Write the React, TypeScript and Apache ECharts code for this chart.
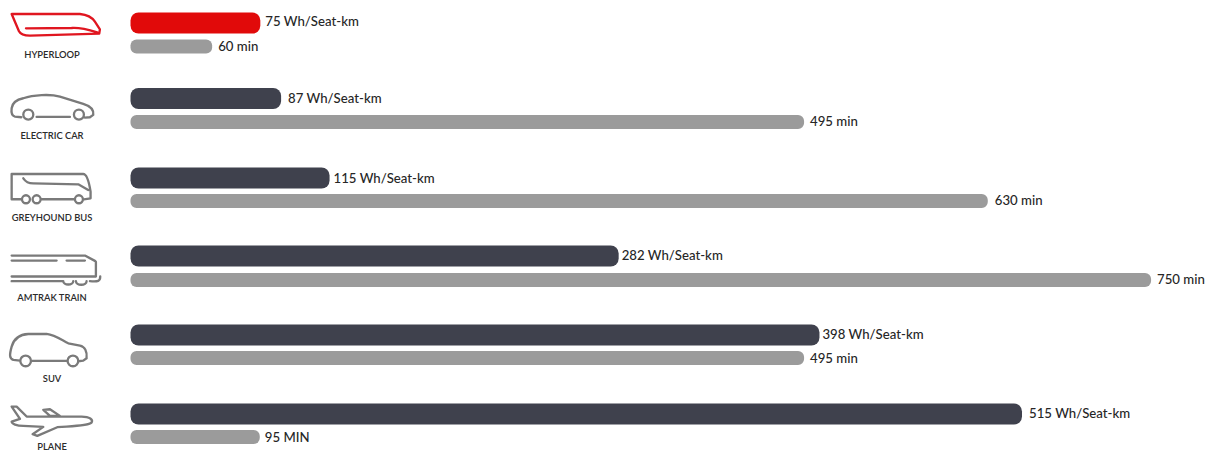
import React, { useEffect, useRef } from "react";
import * as echarts from "echarts";

const modes = ["HYPERLOOP", "ELECTRIC CAR", "GREYHOUND BUS", "AMTRAK TRAIN", "SUV", "PLANE"];
const energyValues = [75, 87, 115, 282, 398, 515];
const timeValues = [60, 495, 630, 750, 495, 95];
const timeUnits = ["min", "min", "min", "min", "min", "MIN"];

const energyRowY = [23, 98.5, 178, 256, 335, 414];
const timeRowY = [46.5, 122, 201, 280, 358, 437];
const captionY = [54, 135, 217, 297, 378, 446];
const iconOffsetY = [0, 0, 150, 150, 300, 300];

// Small per-row shifts of the value labels, [dx, dy].
const energyLabelShift = [[0, -2.5], [2, -1], [-1, 0], [-2, -1], [-2, -1], [2, -1]];
const timeLabelShift = [[1, -0.5], [1, -1], [2, -1], [1, -1], [1, 0], [0, 0]];

const PLOT_LEFT = 130.5;
const PLOT_WIDTH = 1075;
const ENERGY_MAX = 621;
const TIME_MAX = 790;
const FONT = "Lato, 'Noto Sans', sans-serif";

// Outline icons, drawn at three times their size and scaled down when placed.
const iconPaths = [
  "M35 42 L240 42 C262 44 275 50 285 65 L300 88 L298 101 L90 107 C72 107 62 104 57 94 Z M78 85 L215 84 C240 82 262 88 292 97",
  "M64 352 L45 350 C35 348 33 340 35 325 C37 310 45 300 70 295 C100 285 150 282 180 290 L250 312 C270 318 282 330 280 345 L270 352 L255 353 M110 351 L210 351 M70 344 A15 15 0 1 1 100 344 A15 15 0 1 1 70 344 M222 344 A15 15 0 1 1 252 344 A15 15 0 1 1 222 344",
  "M64 148 L35 148 L35 72 L250 72 C262 72 268 100 272 125 L272 145 L252 148 M125 148 L222 148 M66 148 A12 12 0 1 1 90 148 A12 12 0 1 1 66 148 M98 148 A12 12 0 1 1 122 148 A12 12 0 1 1 98 148 M225 148 A12 12 0 1 1 249 148 A12 12 0 1 1 225 148 M70 85 C78 97 85 100 100 100 L235 103 L265 120",
  "M35 317 L255 317 L285 333 L288 336 L288 380 M35 332 L170 332 M200 332 L255 332 M35 380 L288 380 M35 394 L190 394 M190 394 A15 10 0 0 0 220 394 M228 394 A15 10 0 0 0 260 394 M270 394 C295 396 301 394 301 380",
  "M60 182 L40 180 C28 175 28 165 35 140 C42 115 60 103 85 102 L140 102 C165 105 185 120 205 130 L240 137 C255 140 262 155 260 175 L250 182 L235 184 M95 183 L200 183 M61 183 A16 16 0 1 1 93 183 A16 16 0 1 1 61 183 M203 183 A16 16 0 1 1 235 183 A16 16 0 1 1 203 183",
  "M35 320 L50 320 L80 350 L245 350 C270 350 280 360 275 368 C270 375 240 378 200 380 L172 382 L112 408 L98 403 L130 381 L70 378 C50 378 35 372 35 365 L60 357 Z M130 330 L150 328 L180 348 L150 348 Z",
];

iconPaths.forEach((d, i) => {
  echarts.graphic.registerShape("modeIcon" + i, echarts.graphic.extendPath(d, {}));
});

function buildOption() {
  const grid: any[] = [];
  const xAxis: any[] = [];
  const yAxis: any[] = [];
  const series: any[] = [];

  const addBar = (
    name: string,
    category: string,
    value: number,
    max: number,
    rowY: number,
    thickness: number,
    radius: number,
    color: string,
    text: string,
    shift: number[]
  ) => {
    const idx = grid.length;
    grid.push({ left: PLOT_LEFT, width: PLOT_WIDTH, top: rowY - thickness / 2, height: thickness });
    xAxis.push({ type: "value", gridIndex: idx, min: 0, max, show: false });
    yAxis.push({ type: "category", gridIndex: idx, data: [category], show: false });
    series.push({
      type: "bar",
      name,
      xAxisIndex: idx,
      yAxisIndex: idx,
      data: [value],
      barWidth: thickness,
      silent: true,
      itemStyle: { color, borderRadius: radius },
      label: {
        show: true,
        position: "right",
        distance: 5,
        offset: shift,
        formatter: text,
        color: "#262626",
        fontFamily: FONT,
        fontSize: 13.2,
        fontWeight: 500,
      },
    });
  };

  modes.forEach((mode, i) => {
    addBar(
      "Energy",
      mode,
      energyValues[i],
      ENERGY_MAX,
      energyRowY[i],
      21,
      8,
      i === 0 ? "#e10a0a" : "#3f414d",
      `${energyValues[i]} Wh/Seat-km`,
      energyLabelShift[i]
    );
    addBar(
      "Time",
      mode,
      timeValues[i],
      TIME_MAX,
      timeRowY[i],
      14,
      6,
      "#9b9b9b",
      `${timeValues[i]} ${timeUnits[i]}`,
      timeLabelShift[i]
    );
  });

  const graphic: any[] = [];
  modes.forEach((mode, i) => {
    graphic.push({
      type: "modeIcon" + i,
      x: 0,
      y: iconOffsetY[i],
      scaleX: 1 / 3,
      scaleY: 1 / 3,
      silent: true,
      style: {
        fill: "none",
        stroke: i === 0 ? "#e01620" : "#7a7a7a",
        lineWidth: 7,
        lineJoin: "round",
        lineCap: "round",
      },
    });
    graphic.push({
      type: "text",
      x: 52,
      y: captionY[i],
      silent: true,
      style: {
        text: mode,
        fill: "#2b2b2b",
        font: `600 9.4px ${FONT}`,
        textAlign: "center",
        textVerticalAlign: "middle",
      },
    });
  });

  return { animation: false, grid, xAxis, yAxis, series, graphic };
}

export default function App() {
  const ref = useRef<HTMLDivElement>(null);

  useEffect(() => {
    document.body.style.margin = "0";
    const chart = echarts.init(ref.current!, undefined, { renderer: "svg" });
    chart.setOption(buildOption());
    return () => chart.dispose();
  }, []);

  return <div ref={ref} style={{ width: 1206, height: 450 }} />;
}
